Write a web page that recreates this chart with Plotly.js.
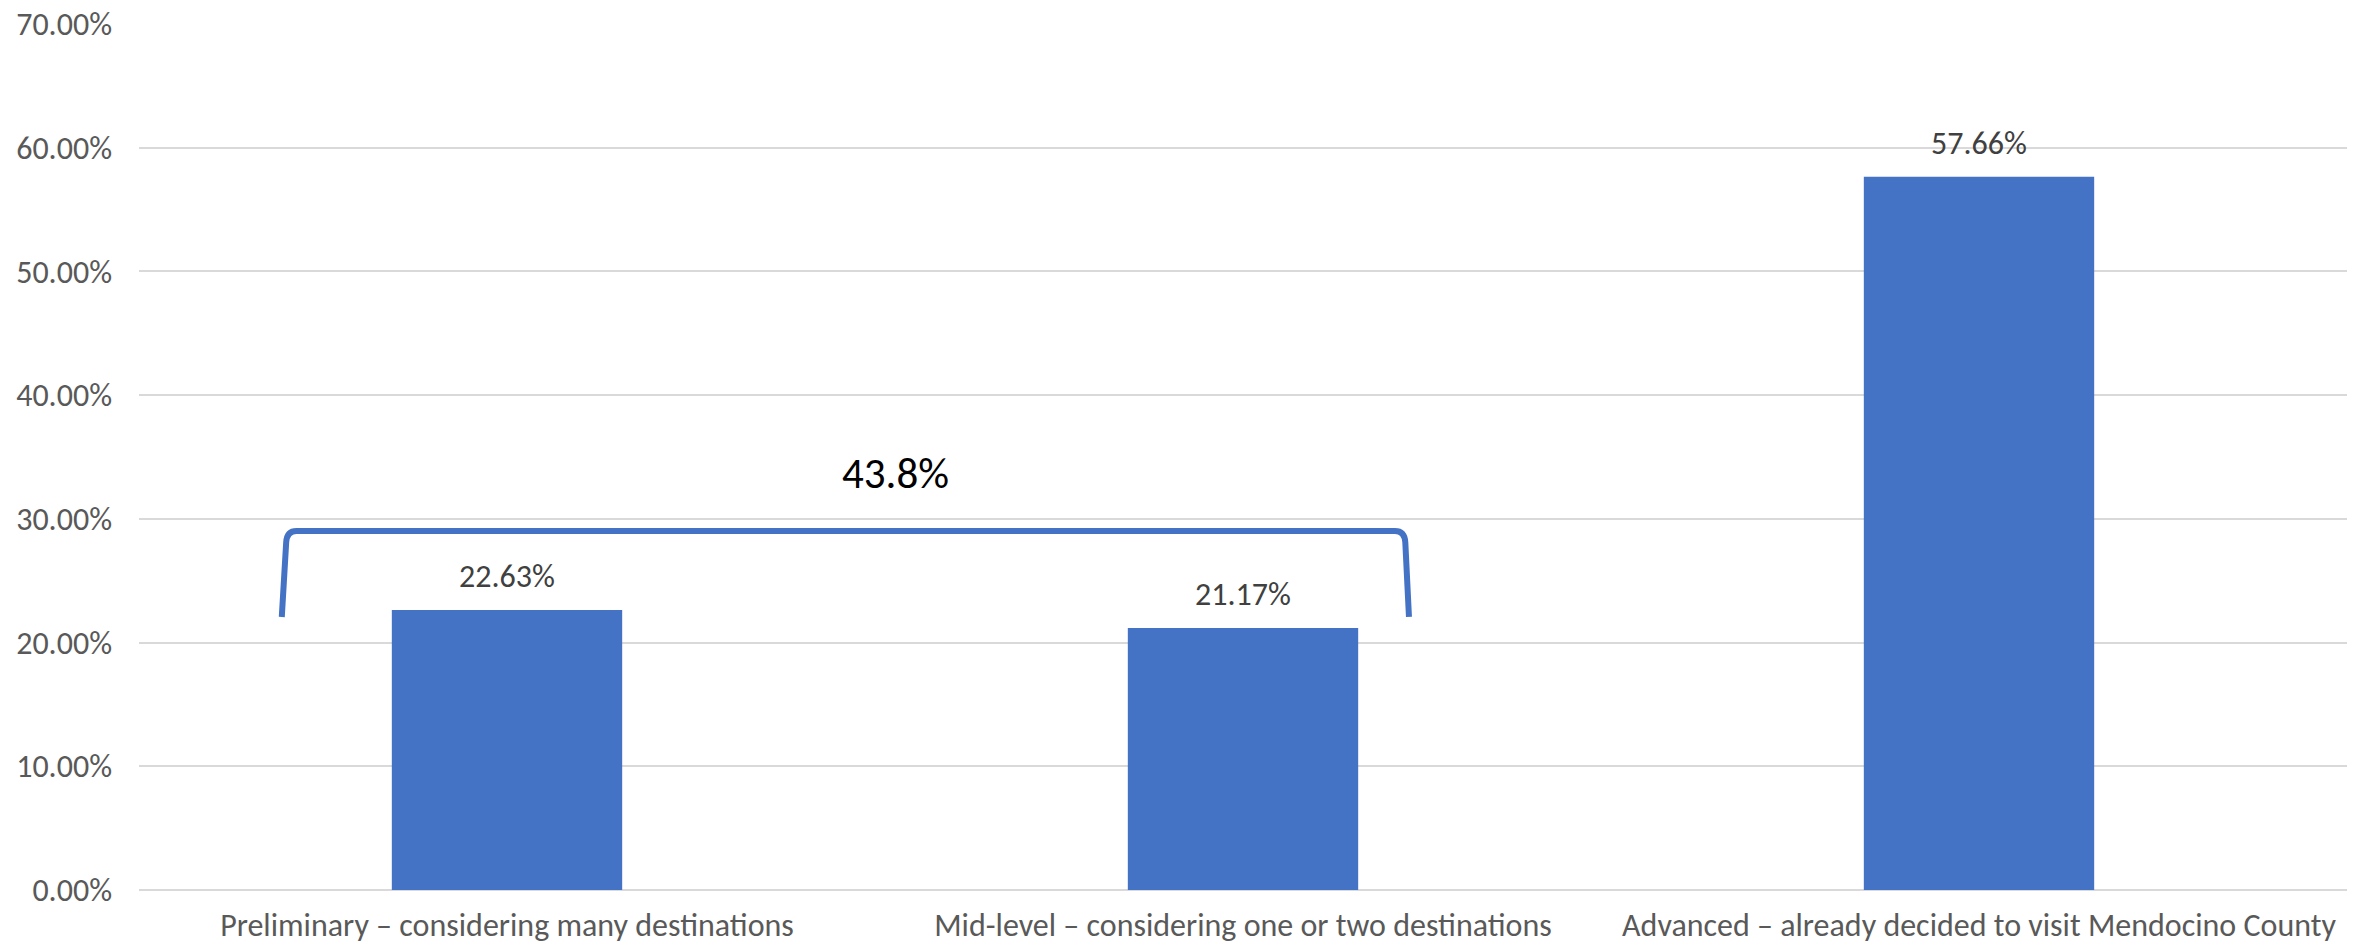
<!DOCTYPE html>
<html>
<head>
<meta charset="utf-8">
<script src="https://cdn.plot.ly/plotly-3.0.1.min.js"></script>
<style>html,body{margin:0;padding:0;background:#fff;}#chart{width:2361px;height:946px;}</style>
</head>
<body>
<div id="chart"></div>
<script>
const categories = [
  "Preliminary – considering many destinations",
  "Mid-level – considering one or two destinations",
  "Advanced – already decided to visit Mendocino County"
];
const values = [0.2263, 0.2117, 0.5766];
const yTickVals = [0, 0.1, 0.2, 0.3, 0.4, 0.5, 0.6, 0.7];
const bracketLabel = "43.8%";

const FONT = "Carlito, 'Liberation Sans', Arial, sans-serif";
const idx = categories.map((c, i) => i);

// bracket geometry (annotation), in axis units
const bx0 = -0.306, bx1 = 1.2255, byTop = 0.2902, byBot = 0.2207;
const rx = 0.013, ry = 0.009;
const bracketPath =
  `M ${bx0},${byBot} L ${bx0 + 0.006},${byTop - ry} Q ${bx0 + 0.007},${byTop} ${bx0 + rx + 0.007},${byTop} ` +
  `L ${bx1 - rx - 0.006},${byTop} Q ${bx1 - 0.006},${byTop} ${bx1 - 0.005},${byTop - ry} L ${bx1},${byBot}`;

const trace = {
  type: 'bar',
  x: idx,
  y: values,
  width: 0.313,
  marker: {color: '#4472C4'},
  hoverinfo: 'skip'
};

const valueLabels = values.map((v, i) => ({
  xref: 'x', yref: 'y',
  x: idx[i], y: v,
  text: (v * 100).toFixed(2) + '%',
  showarrow: false,
  yanchor: 'bottom',
  yshift: 12,
  font: {family: FONT, size: 32, color: '#404040'}
}));

const layout = {
  width: 2361,
  height: 946,
  margin: {l: 139, r: 14, t: 24, b: 56},
  paper_bgcolor: '#ffffff',
  plot_bgcolor: '#ffffff',
  showlegend: false,
  bargap: 0.687,
  xaxis: {
    type: 'linear',
    range: [-0.5, 2.5],
    tickvals: idx,
    ticktext: categories,
    showgrid: false,
    zeroline: false,
    showline: false,
    ticks: '',
    ticklabelstandoff: 13,
    tickfont: {family: FONT, size: 32, color: '#595959'},
    fixedrange: true
  },
  yaxis: {
    range: [0, 0.7],
    tickvals: yTickVals,
    tickformat: '.2%',
    showgrid: true,
    gridcolor: '#D9D9D9',
    gridwidth: 2,
    zeroline: true,
    zerolinecolor: '#D9D9D9',
    zerolinewidth: 2,
    showline: false,
    ticks: '',
    ticklabelstandoff: 26,
    tickfont: {family: FONT, size: 32, color: '#595959'},
    fixedrange: true
  },
  shapes: [{
    type: 'path',
    xref: 'x', yref: 'y',
    path: bracketPath,
    line: {color: '#4472C4', width: 6}
  }],
  annotations: valueLabels.concat([{
    xref: 'x', yref: 'y',
    x: 0.5285, y: 0.3367,
    text: bracketLabel,
    showarrow: false,
    font: {family: FONT, size: 43, color: '#000000'}
  }])
};

Plotly.newPlot('chart', [trace], layout, {displayModeBar: false, staticPlot: true});
</script>
</body>
</html>
